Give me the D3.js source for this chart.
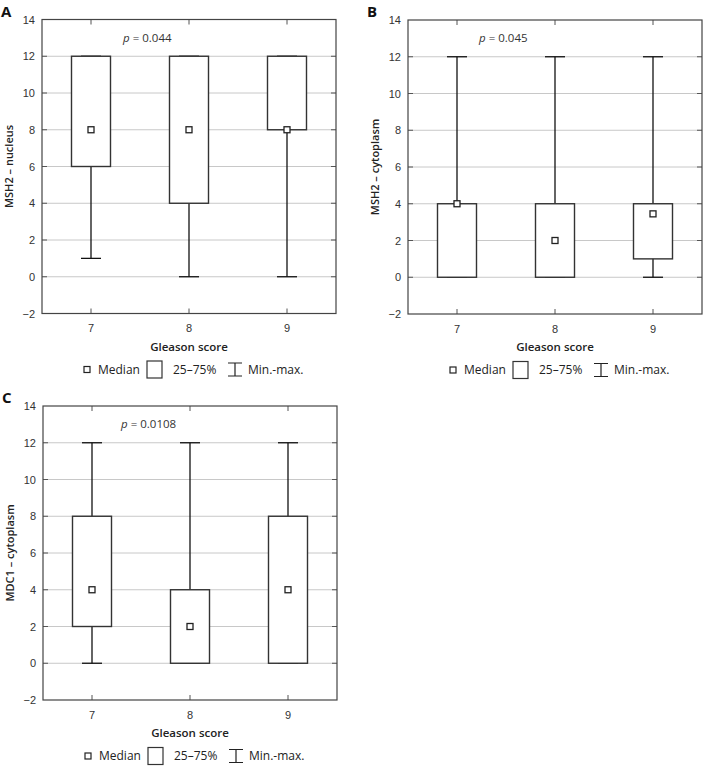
<!DOCTYPE html>
<html>
<head>
<meta charset="utf-8">
<script src="https://cdn.jsdelivr.net/npm/d3@7"></script>
<style>
  body { margin: 0; background: #fff; }
  svg { display: block; font-family: "Open Sans", "DejaVu Sans", sans-serif; }
</style>
</head>
<body>
<div id="chart"></div>
<script>
// data
const categories = ["7", "8", "9"];
const yTicks = [-2, 0, 2, 4, 6, 8, 10, 12, 14];
const panelLetters = ["A", "B", "C"];
const yLabels = ["MSH2 \u2013 nucleus", "MSH2 \u2013 cytoplasm", "MDC1 \u2013 cytoplasm"];
const pLabels = ["0.044", "0.045", "0.0108"];

// MSH2 nucleus
const nucMin = [1, 0, 0];
const nucQ1 = [6, 4, 8];
const nucMedian = [8, 8, 8];
const nucQ3 = [12, 12, 12];
const nucMax = [12, 12, 12];

// MSH2 cytoplasm
const cytMin = [0, 0, 0];
const cytQ1 = [0, 0, 1];
const cytMedian = [4, 2, 3.45];
const cytQ3 = [4, 4, 4];
const cytMax = [12, 12, 12];

// MDC1 cytoplasm
const mdcMin = [0, 0, 0];
const mdcQ1 = [2, 0, 0];
const mdcMedian = [4, 2, 4];
const mdcQ3 = [8, 4, 8];
const mdcMax = [12, 12, 12];

const series = [
  [nucMin, nucQ1, nucMedian, nucQ3, nucMax],
  [cytMin, cytQ1, cytMedian, cytQ3, cytMax],
  [mdcMin, mdcQ1, mdcMedian, mdcQ3, mdcMax]
];

// layout
const W = 703, H = 766;
const pw = 294, ph = 294;
const origins = [[42, 19.5], [408, 20], [43, 406]];
const pOffset = [81, 71, 78];

const svg = d3.select("#chart").append("svg")
  .attr("xmlns", "http://www.w3.org/2000/svg")
  .attr("width", W)
  .attr("height", H);

const x = d3.scaleBand().domain(categories).range([0, pw]).padding(0);
const y = d3.scaleLinear().domain([-2, 14]).range([ph, 0]);
const boxW = 39, capW = 20, medS = 6;

series.forEach((s, k) => {
  const [ox, oy] = origins[k];
  const g = svg.append("g").attr("transform", `translate(${ox},${oy})`);
  const rows = categories.map((c, i) => ({
    cat: c, min: s[0][i], q1: s[1][i], med: s[2][i], q3: s[3][i], max: s[4][i]
  }));
  const cx = d => x(d.cat) + x.bandwidth() / 2;

  // gridlines
  g.selectAll(".grid").data(yTicks.slice(1, -1)).enter().append("line")
    .attr("x1", 0).attr("x2", pw)
    .attr("y1", d => y(d)).attr("y2", d => y(d))
    .attr("stroke", "#c8c8c8").attr("stroke-width", 1);

  // y axis ticks + labels
  const yAxis = d3.axisLeft(y).tickValues(yTicks).tickSize(0).tickPadding(7)
    .tickFormat(d => d < 0 ? "\u2212" + Math.abs(d) : d);
  const ya = g.append("g").call(yAxis);
  ya.select(".domain").remove();
  ya.selectAll("text").attr("fill", "#333").style("font-size", "11px");

  // small inner ticks on left/right edges
  g.selectAll(".tl").data(yTicks.slice(1, -1)).enter().append("line")
    .attr("x1", 0).attr("x2", 5).attr("y1", d => y(d)).attr("y2", d => y(d))
    .attr("stroke", "#555");
  g.selectAll(".tr").data(yTicks.slice(1, -1)).enter().append("line")
    .attr("x1", pw - 5).attr("x2", pw).attr("y1", d => y(d)).attr("y2", d => y(d))
    .attr("stroke", "#555");

  // x axis
  const xa = g.append("g").attr("transform", `translate(0,${ph})`)
    .call(d3.axisBottom(x).tickSize(-5).tickPadding(11));
  xa.select(".domain").remove();
  xa.selectAll("line").attr("stroke", "#555");
  xa.selectAll("text").attr("fill", "#333").style("font-size", "11px");
  const xt = g.append("g").call(d3.axisTop(x).tickSize(-5).tickFormat(""));
  xt.select(".domain").remove();
  xt.selectAll("line").attr("stroke", "#555");

  // whiskers
  g.selectAll(".wh").data(rows).enter().append("line")
    .attr("x1", cx).attr("x2", cx)
    .attr("y1", d => y(d.min)).attr("y2", d => y(d.max))
    .attr("stroke", "#111").attr("stroke-width", 1.3);
  ["min", "max"].forEach(key => {
    g.selectAll(".cap-" + key).data(rows).enter().append("line")
      .attr("x1", d => cx(d) - capW / 2).attr("x2", d => cx(d) + capW / 2)
      .attr("y1", d => y(d[key])).attr("y2", d => y(d[key]))
      .attr("stroke", "#111").attr("stroke-width", 1.3);
  });

  // boxes
  g.selectAll(".box").data(rows).enter().append("rect")
    .attr("x", d => cx(d) - boxW / 2)
    .attr("y", d => y(d.q3))
    .attr("width", boxW)
    .attr("height", d => y(d.q1) - y(d.q3))
    .attr("fill", "#fff").attr("stroke", "#333").attr("stroke-width", 1.4);

  // medians
  g.selectAll(".med").data(rows).enter().append("rect")
    .attr("x", d => cx(d) - medS / 2)
    .attr("y", d => y(d.med) - medS / 2)
    .attr("width", medS).attr("height", medS)
    .attr("fill", "#fff").attr("stroke", "#222").attr("stroke-width", 1.3);

  // frame
  g.append("rect").attr("width", pw).attr("height", ph)
    .attr("fill", "none").attr("stroke", "#444").attr("stroke-width", 1.2);

  // p value
  const pt = g.append("text").attr("x", pOffset[k]).attr("y", 22)
    .attr("fill", "#333").style("font-size", "11.5px");
  pt.append("tspan").style("font-style", "italic").text("p");
  pt.append("tspan").text(" = " + pLabels[k]);

  // y label
  g.append("text")
    .attr("transform", `translate(-29,${ph / 2}) rotate(-90)`)
    .attr("text-anchor", "middle")
    .attr("fill", "#222").style("font-size", "11px").style("font-weight", 600)
    .text(yLabels[k]);

  // x label
  g.append("text").attr("x", pw / 2).attr("y", ph + 37)
    .attr("text-anchor", "middle")
    .attr("fill", "#222").style("font-size", "11.5px").style("font-weight", 600)
    .text("Gleason score");

  // panel letter
  svg.append("text").attr("x", ox - 41).attr("y", oy - 3)
    .attr("fill", "#111").style("font-size", "15px").style("font-weight", 700)
    .text(panelLetters[k]);

  // legend
  const lg = g.append("g").attr("transform", `translate(${pw / 2},${ph + 56})`);
  lg.append("rect").attr("x", -105).attr("y", -3).attr("width", medS).attr("height", medS)
    .attr("fill", "#fff").attr("stroke", "#222").attr("stroke-width", 1.2);
  lg.append("text").attr("x", -91).attr("y", 4).attr("fill", "#222")
    .style("font-size", "12px").text("Median");
  lg.append("rect").attr("x", -42).attr("y", -8.5).attr("width", 15).attr("height", 17)
    .attr("fill", "#fff").attr("stroke", "#333").attr("stroke-width", 1.2);
  lg.append("text").attr("x", -16).attr("y", 4).attr("fill", "#222")
    .style("font-size", "12px").text("25\u201375%");
  lg.append("path").attr("d", "M39,-6.5H53M46,-6.5V6.5M39,6.5H53")
    .attr("fill", "none").attr("stroke", "#222").attr("stroke-width", 1.2);
  lg.append("text").attr("x", 59).attr("y", 4).attr("fill", "#222")
    .style("font-size", "12px").text("Min.-max.");
});
</script>
</body>
</html>
